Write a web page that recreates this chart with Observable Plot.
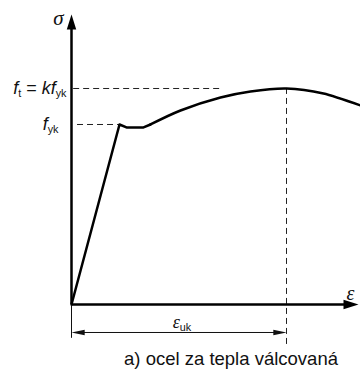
<!DOCTYPE html>
<html>
<head>
<meta charset="utf-8">
<script src="https://cdn.jsdelivr.net/npm/d3@7"></script>
<script src="https://cdn.jsdelivr.net/npm/@observablehq/plot@0.6"></script>
<style>
  body { margin: 0; background: #fff; }
  #chart { width: 360px; height: 346px; }
  .caption {
    font-family: "Liberation Sans", Arial, sans-serif;
    font-size: 18.5px;
    line-height: 18.5px;
    color: #111;
    width: 258px;
    padding-left: 102px;
    padding-top: 4px;
    text-align: center;
    white-space: nowrap;
  }
</style>
</head>
<body>
<div id="chart"></div>
<div class="caption">a) ocel za tepla válcovaná</div>
<script>
// Characteristic values of hot-rolled reinforcing steel (schematic units)
const fyk = 500;        // characteristic yield strength
const k = 1.2;          // ratio ft / fyk
const ft = k * fyk;     // tensile strength
const epsUk = 10;       // strain at maximum load

// Elastic branch and yield plateau
const elasticStrain = [0, 2.233, 2.558, 3.349, 3.674];
const elasticStress = [0, 500, 491.7, 491.7, 500];

// Strain-hardening branch up to and beyond the peak
const hardeningStrain = [3.674, 5.07, 6.93, 8.326, 10, 11.72, 13.44];
const hardeningStress = [500, 538.9, 575, 591.7, 600, 586, 553];

// Axis extents and dimension-line levels
const sigmaTop = 805.6;   // tip of the σ axis
const epsTop = 13.35;     // tip of the ε axis
const dimLevel = -77.8;   // ε_uk dimension line
const dimTickTop = -5.6, dimTickBottom = -94;
const epsUkDashBottom = -111;

// Axis labels and annotation texts ("_" starts a subscript)
const labelFt = "f_t = kf_yk";
const labelFyk = "f_yk";
const labelSigma = "σ";
const labelEps = "ε";
const labelEpsUk = "ε_uk";

const elastic = elasticStrain.map((e, i) => ({strain: e, stress: elasticStress[i]}));
const hardening = hardeningStrain.map((e, i) => ({strain: e, stress: hardeningStress[i]}));

// Filled arrowhead whose tip sits at the anchor point, pointing up before rotation
const head = (lenK, halfK) => ({
  draw(ctx, size) {
    const r = Math.sqrt(size / Math.PI);
    ctx.moveTo(0, 0);
    ctx.lineTo(-halfK * r, lenK * r);
    ctx.lineTo(halfK * r, lenK * r);
    ctx.closePath();
  }
});
const axisHead = head(3, 0.95);
const dimHead = head(3, 0.6);

const sans = "'Liberation Sans', Arial, sans-serif";
const serif = "'Liberation Serif', 'Times New Roman', serif";
const dash = {stroke: "#222", strokeWidth: 1, strokeDasharray: "6,4"};

const plot = Plot.plot({
  width: 360,
  height: 346,
  marginTop: 0, marginRight: 0, marginBottom: 0, marginLeft: 0,
  x: {domain: [-71 / 21.5, 289 / 21.5], axis: null},
  y: {domain: [-116.7, 844.4], axis: null},
  marks: [
    // reference lines for ft and fyk
    Plot.ruleY([ft], {x1: 0.1, x2: 6.98, ...dash}),
    Plot.ruleY([fyk], {x1: 0.28, x2: elasticStrain[1], ...dash}),
    Plot.ruleX([epsUk], {y1: epsUkDashBottom, y2: ft, ...dash}),
    // dimension of εuk
    Plot.ruleX([0], {y1: dimTickBottom, y2: dimTickTop, stroke: "#111", strokeWidth: 1}),
    Plot.ruleY([dimLevel], {x1: 0.5, x2: epsUk - 0.5, stroke: "#111", strokeWidth: 1}),
    Plot.dot([{x: 0, r: -90}, {x: epsUk, r: 90}], {
      x: "x", y: () => dimLevel, rotate: "r", r: 4.4, symbol: dimHead, fill: "#111", stroke: "none"
    }),
    // axes
    Plot.ruleX([0], {y1: 0, y2: sigmaTop - 30, stroke: "#000", strokeWidth: 2.5}),
    Plot.ruleY([0], {x1: 0, x2: epsTop - 0.5, stroke: "#000", strokeWidth: 2.5}),
    Plot.dot([{x: 0, y: sigmaTop, r: 0}, {x: epsTop, y: 0, r: 90}], {
      x: "x", y: "y", rotate: "r", r: 5, symbol: axisHead, fill: "#000", stroke: "none"
    }),
    // stress-strain diagram
    Plot.line(elastic, {x: "strain", y: "stress", stroke: "#000", strokeWidth: 2.5, strokeLinejoin: "round"}),
    Plot.line(hardening, {x: "strain", y: "stress", curve: "catmull-rom", stroke: "#000", strokeWidth: 2.5, strokeLinejoin: "round"}),
    // labels
    Plot.text([labelFt], {x: 0, y: ft, text: d => d, dx: -5, textAnchor: "end", fontSize: 18, fontFamily: sans, fill: "#111"}),
    Plot.text([labelFyk], {x: 0, y: fyk, text: d => d, dx: -13, textAnchor: "end", fontSize: 18, fontFamily: sans, fill: "#111"}),
    Plot.text([labelSigma], {x: 0, y: sigmaTop, text: d => d, dx: -13, dy: 4, fontSize: 21, fontFamily: serif, fontStyle: "italic", fill: "#111"}),
    Plot.text([labelEps], {x: epsTop, y: 0, text: d => d, dx: -8, dy: -11, fontSize: 20, fontFamily: serif, fontStyle: "italic", fill: "#111"}),
    Plot.text([labelEpsUk], {x: epsUk / 2, y: dimLevel, text: d => d, dx: 3, dy: -10, fontSize: 18, fontFamily: serif, fill: "#111"})
  ]
});

// Render "_xx" as subscripts; letters in the main text are italic
function setRich(el, src) {
  const base = parseFloat(getComputedStyle(el).fontSize) || 16;
  const shift = base * 0.17;
  const t = d3.select(el);
  t.text(null);
  let shifted = false;
  for (const p of src.split(/(_[A-Za-z]+)/).filter(s => s)) {
    if (p.startsWith("_")) {
      t.append("tspan")
        .attr("font-size", base * 0.6)
        .attr("font-style", "normal")
        .attr("font-family", sans)
        .attr("dy", shift)
        .text(p.slice(1));
      shifted = true;
    } else {
      for (const run of p.match(/[A-Za-zσε]+|[^A-Za-zσε]+/g)) {
        const ts = t.append("tspan")
          .attr("font-style", /[A-Za-zσε]/.test(run) ? "italic" : "normal")
          .text(run);
        if (shifted) { ts.attr("dy", -shift); shifted = false; }
      }
    }
  }
}

document.getElementById("chart").append(plot);
plot.querySelectorAll("text").forEach(el => {
  const s = el.textContent;
  if (s.includes("_")) setRich(el, s);
});
</script>
</body>
</html>
